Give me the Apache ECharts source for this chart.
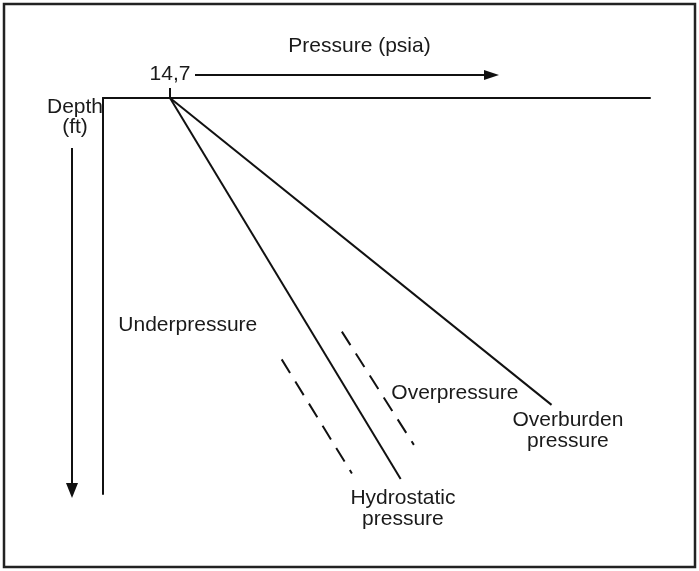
<!DOCTYPE html>
<html>
<head>
<meta charset="utf-8">
<script src="https://cdn.jsdelivr.net/npm/echarts@6/dist/echarts.min.js"></script>
<style>
  html, body { margin: 0; padding: 0; background: #fff; }
  #main { width: 699px; height: 571px; }
</style>
</head>
<body>
<div id="main"></div>
<script>
// pressure (x) runs 0..120, depth (y) runs 0..100, both schematic units
var surfacePressure = 14.7;
var hydrostatic = [[14.7, 0], [65.3, 96.2]];
var overburden = [[14.7, 0], [98.4, 77.5]];
var underDashed = [[39.2, 66.0], [54.6, 94.8]];
var overDashed = [[52.4, 59.0], [68.2, 87.6]];

// region / curve labels: [x, y, text]
var labels = [
    [18.6, 57.3, 'Underpressure'],
    [77.2, 74.5, 'Overpressure'],
    [102.0, 84.1, 'Overburden\npressure'],
    [65.8, 103.8, 'Hydrostatic\npressure']
];

var ink = '#111';
var font = 'Liberation Sans, Arial, sans-serif';

var dom = document.getElementById('main');
var myChart = echarts.init(dom);

function solid(name, data) {
    return {
        name: name,
        type: 'line',
        data: data,
        symbol: 'none',
        silent: true,
        lineStyle: { color: ink, width: 2 }
    };
}

function dashed(name, data) {
    return {
        name: name,
        type: 'line',
        data: data,
        symbol: 'none',
        silent: true,
        lineStyle: { color: ink, width: 2, type: [16, 10] }
    };
}

var option = {
    animation: false,
    backgroundColor: '#fff',
    grid: {
        left: 103,
        top: 98,
        width: 547,
        height: 396
    },
    xAxis: {
        type: 'value',
        position: 'top',
        min: 0,
        max: 120,
        name: 'Pressure (psia)',
        nameLocation: 'middle',
        nameGap: 41,
        nameTextStyle: {
            color: '#1a1a1a',
            fontFamily: font,
            fontSize: 21,
            padding: [0, 34, 0, 0]
        },
        axisLine: { show: true, lineStyle: { color: ink, width: 2 } },
        axisTick: {
            show: true,
            customValues: [surfacePressure],
            length: 10,
            lineStyle: { color: ink, width: 2 }
        },
        axisLabel: {
            show: true,
            customValues: [surfacePressure],
            margin: 13,
            color: '#1a1a1a',
            fontFamily: font,
            fontSize: 21,
            formatter: function(v) {
                return String(v).replace('.', ',');
            }
        },
        splitLine: { show: false }
    },
    yAxis: {
        type: 'value',
        inverse: true,
        min: 0,
        max: 100,
        axisLine: { show: true, lineStyle: { color: ink, width: 2 } },
        axisTick: { show: false },
        axisLabel: { show: false },
        splitLine: { show: false }
    },
    graphic: [
        {
            type: 'rect',
            shape: { x: 4, y: 4, width: 691, height: 563 },
            style: { fill: 'none', stroke: '#222', lineWidth: 2.5 },
            silent: true
        },
        // pressure direction arrow
        {
            type: 'line',
            shape: { x1: 195, y1: 75, x2: 486, y2: 75 },
            style: { stroke: ink, lineWidth: 2 },
            silent: true
        },
        {
            type: 'polygon',
            shape: { points: [[484, 70], [499, 75], [484, 80]] },
            style: { fill: ink },
            silent: true
        },
        // depth direction arrow
        {
            type: 'line',
            shape: { x1: 72, y1: 148, x2: 72, y2: 485 },
            style: { stroke: ink, lineWidth: 2 },
            silent: true
        },
        {
            type: 'polygon',
            shape: { points: [[66, 483], [72, 498], [78, 483]] },
            style: { fill: ink },
            silent: true
        },
        {
            type: 'text',
            x: 75,
            y: 117,
            style: {
                text: 'Depth\n(ft)',
                font: '21px ' + font,
                fill: '#1a1a1a',
                align: 'center',
                verticalAlign: 'middle',
                lineHeight: 20
            },
            silent: true
        }
    ],
    series: [
        solid('Hydrostatic pressure', hydrostatic),
        solid('Overburden pressure', overburden),
        dashed('Underpressure trend', underDashed),
        dashed('Overpressure trend', overDashed),
        {
            name: 'labels',
            type: 'scatter',
            clip: false,
            silent: true,
            symbolSize: 0,
            itemStyle: { opacity: 1, color: ink },
            data: labels.map(function(l) {
                return { value: [l[0], l[1]], name: l[2] };
            }),
            label: {
                show: true,
                position: 'inside',
                formatter: '{b}',
                color: '#1a1a1a',
                opacity: 1,
                fontFamily: font,
                fontSize: 21,
                lineHeight: 21,
                align: 'center',
                verticalAlign: 'middle'
            }
        }
    ]
};

if (option && typeof option === "object") {
    myChart.setOption(option, true);
}
</script>
</body>
</html>
